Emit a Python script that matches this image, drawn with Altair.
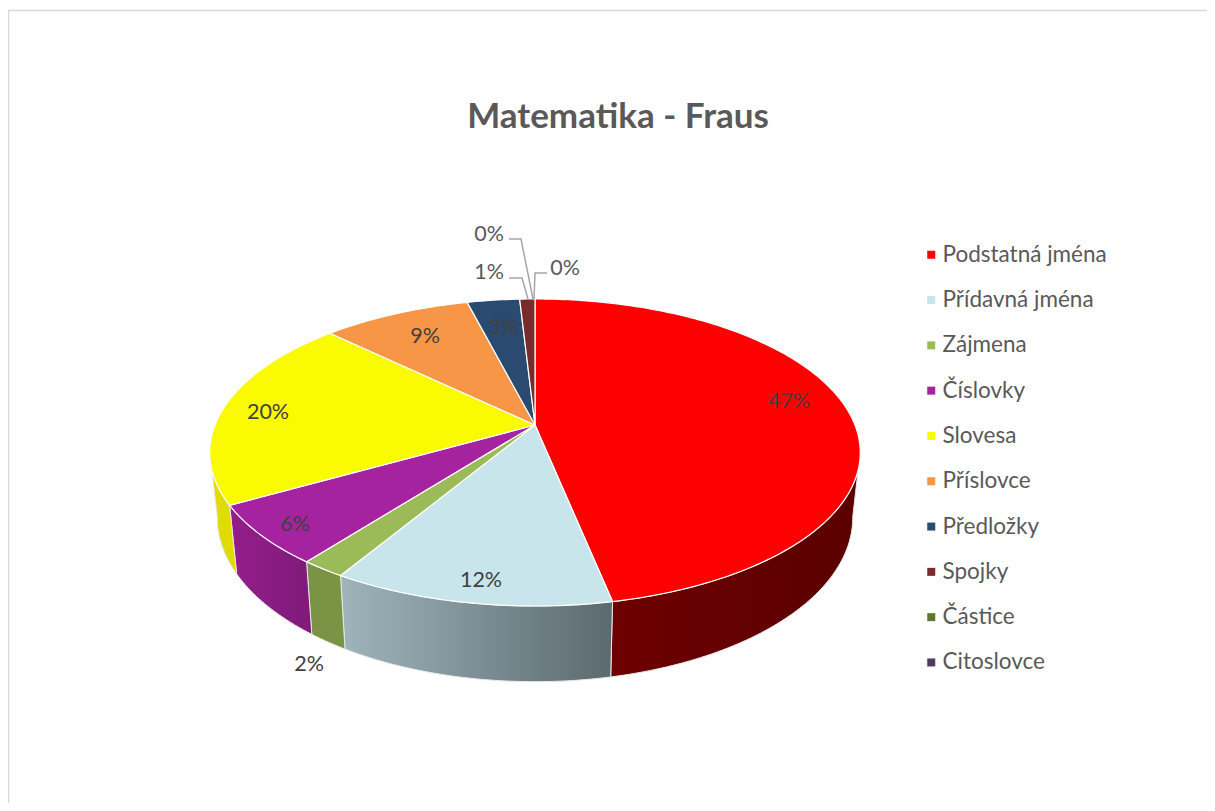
import math
import altair as alt
import pandas as pd

categories = ["Podstatná jména", "Přídavná jména", "Zájmena", "Číslovky", "Slovesa",
              "Příslovce", "Předložky", "Spojky", "Částice", "Citoslovce"]
values = [46.8, 11.8, 1.9, 6.3, 20.4, 8.8, 3.1, 0.9, 0.0, 0.0]
label_texts = ["47%", "12%", "2%", "6%", "20%", "9%", "3%", "1%", "0%", "0%"]
colors = ["#ff0000", "#c9e5ec", "#9bbb59", "#a6239f", "#fbfb00",
          "#f79646", "#2a4a72", "#772c2a", "#5f7530", "#4d3b62"]
wall_stops = {
    "Podstatná jména": ["#6e0000", "#5a0000"],
    "Přídavná jména": ["#9fb5bb", "#5b6a6e"],
    "Zájmena": ["#7a9344", "#7a9344"],
    "Číslovky": ["#941e8c", "#801a79"],
    "Slovesa": ["#e0dc00", "#e0dc00"],
}
label_x = [789, 481, 309, 295, 268, 425, 503, 489, 489, 565]
label_y = [402, 581, 665, 525, 413, 337, 328, 273, 235, 269]
label_dark = [True, True, True, True, True, True, True, False, False, False]
leaders = {
    "a": ([509, 521, 533], [239, 239, 299]),
    "b": ([509, 522, 528], [278, 278, 299]),
    "c": ([547, 535, 534], [273, 273, 299]),
}
frame_x = [1207, 8.5, 8.5]
frame_y = [10.5, 10.5, 803]

# pie seen in perspective
CX, CY, A, B, K = 535, 425, 320, 148.6, -0.179
X_SHRINK, Y_SHRINK, DEPTH = 0.977, 1.07, 63


def rim(theta):
    u, v = math.sin(theta), -math.cos(theta)
    d = 1 + K * v
    return A * u / d, B * v / d


def top(theta):
    x, y = rim(theta)
    return CX + x, CY + y


def bottom(theta):
    x, y = rim(theta)
    return CX + X_SHRINK * x, CY + DEPTH + Y_SHRINK * y


def sweep(a, b):
    n = max(2, int((b - a) / math.radians(1)) + 2)
    return [a + (b - a) * i / (n - 1) for i in range(n)]


faces, walls = [], []
total = sum(values)
start = 0.0
VIS_A, VIS_B = math.radians(100), math.radians(260)
for cat, val in zip(categories, values):
    end = start + val / total * 2 * math.pi
    if val > 0:
        pts = [(CX, CY)] + [top(t) for t in sweep(start, end)] + [(CX, CY)]
        for i, (x, y) in enumerate(pts):
            faces.append(dict(cat=cat, o=i, x=x, y=y))
        a, b = max(start, VIS_A), min(end, VIS_B)
        if a < b:
            ts = sweep(a, b)
            pts = [top(t) for t in ts] + [bottom(t) for t in reversed(ts)]
            pts.append(pts[0])
            for i, (x, y) in enumerate(pts):
                walls.append(dict(cat=cat, o=i, x=x, y=y))
    start = end

faces = pd.DataFrame(faces)
walls = pd.DataFrame(walls)
WIDTH, HEIGHT = 1199, 795
xs = alt.Scale(domain=[8, 8 + WIDTH], range=[0, WIDTH])
ys = alt.Scale(domain=[8, 8 + HEIGHT], range=[0, HEIGHT])
X = alt.X("x:Q", scale=xs, axis=None)
Y = alt.Y("y:Q", scale=ys, axis=None)
layers = []

frame = pd.DataFrame({"x": frame_x, "y": frame_y, "o": range(3)})
layers.append(alt.Chart(frame).mark_line(stroke="#d9d9d9", strokeWidth=1.5).encode(x=X, y=Y, order="o:O"))

for cat, stops in wall_stops.items():
    grad = alt.LinearGradient(gradient="linear", x1=0, x2=1, y1=0, y2=0, stops=[
        alt.GradientStop(color=stops[0], offset=0), alt.GradientStop(color=stops[1], offset=1)])
    layers.append(alt.Chart(walls[walls.cat == cat]).mark_line(
        fill=grad, stroke="#e8e8e8", strokeWidth=1).encode(x=X, y=Y, order="o:Q"))

legend = alt.Legend(title=None, orient="none", legendX=912, legendY=235.5, symbolType="square",
                    symbolSize=64, symbolStrokeWidth=0, labelFont="Lato", labelFontSize=22.5,
                    labelColor="#595959", labelOffset=0, rowPadding=22.3, labelLimit=300, values=categories)
layers.append(alt.Chart(faces).mark_line(stroke="white", strokeWidth=1.2).encode(
    x=X, y=Y, order="o:Q",
    fill=alt.Fill("cat:N", scale=alt.Scale(domain=categories, range=colors), legend=legend)))

lead_rows = [dict(k=k, o=i, x=x, y=y) for k, (lx, ly) in leaders.items() for i, (x, y) in enumerate(zip(lx, ly))]
layers.append(alt.Chart(pd.DataFrame(lead_rows)).mark_line(stroke="#a6a6a6", strokeWidth=1.5).encode(
    x=X, y=Y, order="o:O", detail="k:N"))

labels = pd.DataFrame({"x": label_x, "y": label_y, "t": label_texts, "dark": label_dark})
layers.append(alt.Chart(labels[labels.dark]).mark_text(font="Lato", fontSize=21.5, color="#404040").encode(x=X, y=Y, text="t:N"))
layers.append(alt.Chart(labels[~labels.dark]).mark_text(font="Lato", fontSize=21.5, color="#595959").encode(x=X, y=Y, text="t:N"))

chart = alt.layer(*layers).properties(
    width=WIDTH, height=HEIGHT, padding=0, autosize=alt.AutoSizeParams(type="none"),
    title=alt.TitleParams("Matematika - Fraus", font="Lato", fontSize=35, fontWeight="bold", color="#595959",
                          anchor="middle", baseline="middle", offset=0, dx=10.5, dy=144.5, frame="group"),
).configure_view(stroke=None)
chart.save("out.html", embed_options={"renderer": "svg", "actions": False})
